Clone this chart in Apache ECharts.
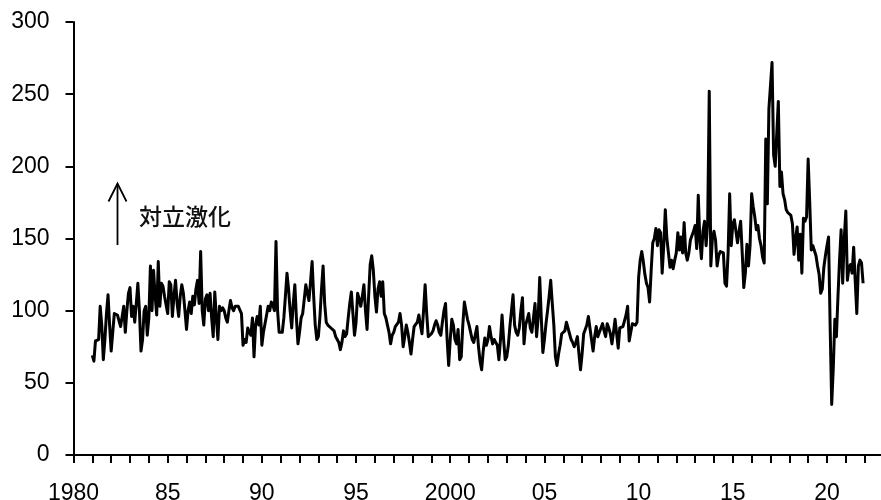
<!DOCTYPE html>
<html>
<head>
<meta charset="utf-8">
<script src="https://cdn.jsdelivr.net/npm/echarts@6/dist/echarts.min.js"></script>
<style>
html,body{margin:0;padding:0;background:#fff;}
#chart{width:881px;height:500px;}
</style>
</head>
<body>
<div id="chart"></div>
<script>
// Monthly values, starting January 1981
const startYear = 1981;
const values1980s = [
  69, 65, 79, 78, 80, 103, 90, 66, 80, 98, 111, 90,
  72, 85, 98, 97, 97, 93, 89, 96, 103, 85, 100, 112,
  116, 96, 103, 92, 105, 119, 100, 72, 80, 100, 103, 83,
  95, 131, 100, 128, 110, 97, 134, 103, 119, 117, 110, 104,
  98, 120, 118, 96, 110, 121, 105, 96, 110, 118, 112, 100,
  87, 100, 106, 98, 110, 104, 115, 121, 105, 141, 100, 90,
  108, 111, 100, 112, 95, 82, 113, 95, 80, 103, 100, 102,
  100, 95, 92, 100, 107, 102, 100, 103, 104, 103, 103, 98,
  76, 80, 78, 88, 85, 83, 95, 68, 90, 96, 90, 103
];
const values1990s = [
  76, 85, 91, 97, 103, 100, 106, 104, 100, 148, 100, 85,
  85, 85, 95, 110, 126, 115, 100, 88, 105, 118, 95, 77,
  85, 95, 98, 108, 118, 112, 107, 120, 134, 110, 90, 80,
  82, 96, 115, 131, 105, 92, 90, 90, 88, 89, 86, 82,
  80, 78, 73, 78, 86, 82, 84, 95, 105, 113, 98, 83,
  92, 112, 108, 103, 110, 118, 100, 87, 110, 132, 138, 128,
  110, 99, 115, 120, 110, 120, 98, 95, 90, 85, 77, 83,
  85, 89, 88, 92, 98, 90, 75, 82, 90, 85, 78, 70,
  80, 89, 89, 92, 97, 90, 84, 100, 118, 98, 82, 83,
  84, 86, 90, 93, 90, 85, 83, 92, 100, 105, 80, 62
];
const values2000s = [
  80, 94, 90, 80, 77, 87, 66, 68, 90, 106, 100, 94,
  90, 85, 80, 78, 77, 89, 75, 65, 59, 72, 81, 76,
  80, 89, 82, 77, 80, 78, 76, 66, 80, 97, 80, 66,
  68, 76, 89, 100, 111, 90, 85, 83, 88, 100, 109, 77,
  90, 94, 98, 88, 85, 95, 105, 82, 95, 123, 95, 71,
  80, 91, 100, 110, 121, 105, 90, 68, 62, 70, 76, 84,
  85, 86, 92, 88, 84, 80, 78, 75, 78, 82, 70, 59,
  70, 84, 87, 90, 96, 88, 80, 72, 82, 89, 82, 85,
  88, 91, 86, 82, 91, 88, 84, 77, 85, 94, 94, 74,
  88, 88, 89, 93, 97, 103, 79, 85, 91, 91, 90, 92
];
const values2010s = [
  123, 135, 141, 134, 125, 119, 116, 106, 128, 147, 150, 157,
  145, 156, 154, 126, 145, 170, 150, 140, 130, 135, 129, 135,
  140, 154, 142, 151, 140, 161, 140, 135, 140, 149, 152, 155,
  159, 143, 180, 149, 136, 155, 162, 145, 161, 252, 131, 150,
  155, 149, 131, 138, 141, 142, 140, 119, 117, 140, 181, 145,
  160, 163, 163, 147, 155, 162, 140, 116, 126, 146, 131, 145,
  181, 172, 165, 156, 159, 150, 145, 137, 133, 219, 174, 240,
  241, 272, 208, 200, 200, 245, 186, 196, 181, 177, 170, 168,
  168, 166, 160, 139, 150, 158, 135, 153, 126, 164, 162, 165,
  205, 175, 142, 145, 144, 138, 131, 125, 112, 115, 130, 138
];
const values2020s = [
  145, 151, 90, 35, 60, 94, 82, 110, 135, 156, 119, 150,
  169, 121, 130, 132, 126, 144, 120, 98, 131, 135, 133, 119
];
const yTicks = [0, 50, 100, 150, 200, 250, 300];
const xLabelYears = [1980, 1985, 1990, 1995, 2000, 2005, 2010, 2015, 2020];
const xLabelTexts = ['1980', '85', '90', '95', '2000', '05', '10', '15', '20'];
const annotationText = '対立激化';

const allValues = [].concat(values1980s, values1990s, values2000s, values2010s, values2020s);
const seriesData = allValues.map((v, i) => [startYear + i / 12, v]);

const chart = echarts.init(document.getElementById('chart'), null, {renderer: 'canvas'});
const font = '"Liberation Sans", Arial, sans-serif';

chart.setOption({
  animation: false,
  backgroundColor: '#ffffff',
  grid: {left: 73.5, top: 22, width: 810, bottom: 45, containLabel: false, outerBoundsMode: 'none'},
  xAxis: {
    type: 'value',
    min: 1980,
    max: 2023,
    interval: 1,
    axisLine: {show: true, onZero: false, lineStyle: {color: '#000', width: 2}},
    axisTick: {show: true, inside: false, length: 8, lineStyle: {color: '#000', width: 2}},
    splitLine: {show: false},
    axisLabel: {
      show: true,
      margin: 27,
      color: '#000',
      fontFamily: font,
      fontSize: 23,
      showMaxLabel: false,
      formatter: function (v) {
        const idx = xLabelYears.indexOf(Math.round(v));
        return (idx >= 0 && Math.abs(v - Math.round(v)) < 1e-6) ? xLabelTexts[idx] : '';
      }
    }
  },
  yAxis: {
    type: 'value',
    min: yTicks[0],
    max: yTicks[yTicks.length - 1],
    interval: 50,
    axisLine: {show: true, lineStyle: {color: '#000', width: 2}},
    axisTick: {show: true, inside: false, length: 8, lineStyle: {color: '#000', width: 2}},
    splitLine: {show: false},
    axisLabel: {
      show: true,
      margin: 24,
      color: '#000',
      fontFamily: font,
      fontSize: 23
    }
  },
  series: [{
    type: 'line',
    data: seriesData,
    showSymbol: false,
    symbol: 'none',
    lineStyle: {color: '#000', width: 3, join: 'round'},
    z: 3
  }],
  graphic: [
    {type: 'line', shape: {x1: 117.5, y1: 184, x2: 117.5, y2: 245}, style: {stroke: '#000', lineWidth: 1.8}},
    {type: 'polyline', shape: {points: [[108.5, 201.5], [117.5, 183.5], [126.5, 201.5]]}, style: {stroke: '#000', lineWidth: 1.8, fill: null}},
    {type: 'text', x: 139, y: 216, style: {text: annotationText, fill: '#111', font: '500 23px "Noto Sans CJK JP", sans-serif', verticalAlign: 'middle', textVerticalAlign: 'middle'}}
  ]
});
</script>
</body>
</html>
